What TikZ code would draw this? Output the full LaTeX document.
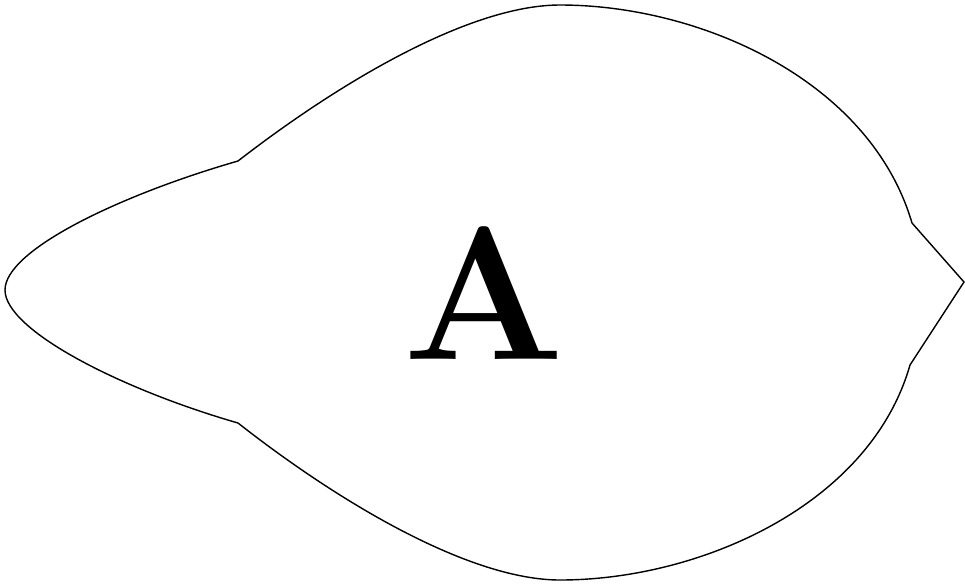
\documentclass[tikz,border=0pt]{standalone}
\usepackage{fontspec}
\usepackage{xcolor}
\usepackage{tikz}
\usetikzlibrary{positioning}

\begin{document}
\begin{tikzpicture}[
  x=0.02cm,y=-0.02cm,
  leaf/.style={draw=black,line width=0.8pt,line join=miter},
  big/.style={inner sep=0pt,font=\fontsize{108}{108}\selectfont\bfseries},
]
  \useasboundingbox (0,0) rectangle (965,586);
  %% outline
  \coordinate (ul) at (238,161);
  \coordinate (top) at (560,5);
  \coordinate (ur) at (912,223);
  \coordinate (tip) at (964,282);
  \coordinate (lr) at (910,365);
  \coordinate (bot) at (560,580);
  \coordinate (ll) at (238,423);
  \coordinate (nose) at (5,290);
  \draw[leaf] (ul) .. controls (340,82) and (470,5) .. (top)
    .. controls (700,5) and (870,80) .. (ur)
    -- (tip) -- (lr)
    .. controls (870,505) and (700,580) .. (bot)
    .. controls (470,580) and (340,503) .. (ll)
    .. controls (120,389) and (5,330) .. (nose)
    .. controls (5,250) and (120,195) .. cycle;
  \node[big] (lbl) at (484,293) {A};
\end{tikzpicture}
\end{document}
